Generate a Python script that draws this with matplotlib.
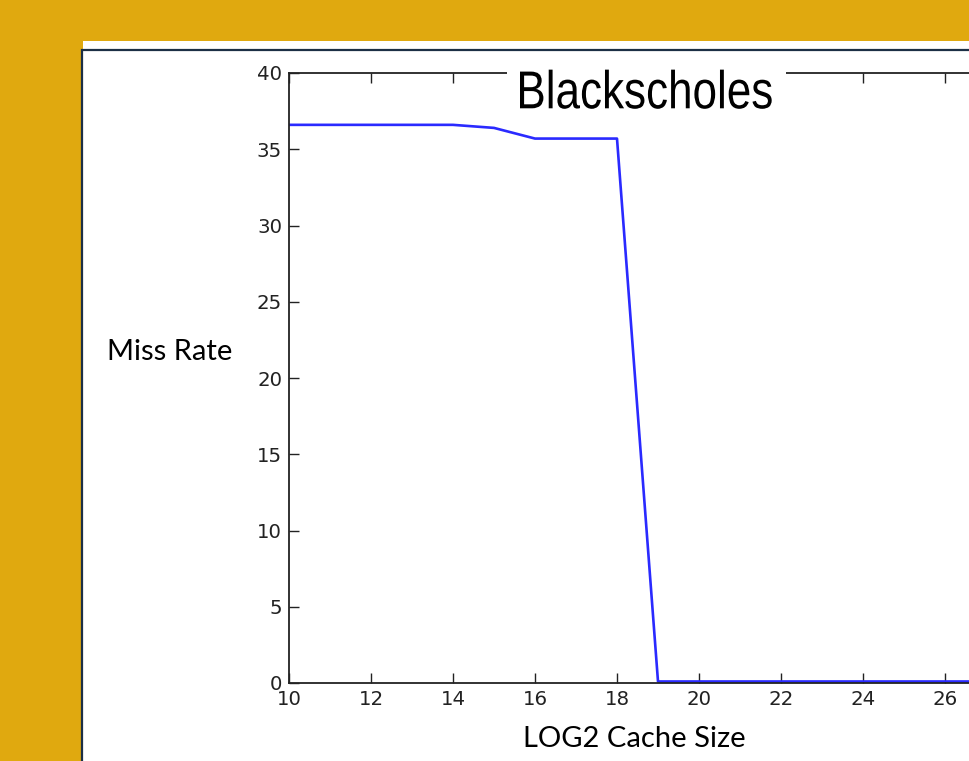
import numpy as np
import matplotlib.pyplot as plt
import matplotlib.transforms as mtransforms
from matplotlib.patches import Rectangle, PathPatch
from matplotlib.textpath import TextPath
from matplotlib.font_manager import FontProperties

# ------------------------------
# Datos
# ------------------------------
log2_size = [10, 11, 12, 13, 14, 15, 16, 17, 18, 19, 20, 21, 22, 23, 24, 25, 26, 27, 28, 29, 30]
miss_rate = [36.6, 36.6, 36.6, 36.6, 36.6, 36.4, 35.7, 35.7, 35.7, 0.1, 0.1, 0.1, 0.1, 0.1,
             0.1, 0.1, 0.1, 0.1, 0.1, 0.1, 0.1]
xticks = [10, 12, 14, 16, 18, 20, 22, 24, 26, 28, 30]
yticks = [0, 5, 10, 15, 20, 25, 30, 35, 40]
titulo = 'Blackscholes'

W, H = 969, 761
fig = plt.figure(figsize=(W/100, H/100), dpi=100)
fig.patch.set_facecolor('#e0a90f')

# panel blanco de la diapositiva
fig.patches.append(Rectangle((83/W, 0), 1, (H-41)/H, transform=fig.transFigure,
                             facecolor='white', edgecolor='none', zorder=0))
fig.patches.append(Rectangle((82/W, -0.01), 1, (H-49.5)/H + 0.01, transform=fig.transFigure,
                             facecolor='none', edgecolor='#1c2f45', linewidth=1.6, zorder=1))

ax = fig.add_axes([289/W, (H-683)/H, (1109-289)/W, 610/H])
ax.set_zorder(3)
ax.plot(log2_size, miss_rate, color='#2a2aff', linewidth=1.9)
ax.set_xlim(10, 30)
ax.set_ylim(0, 40)
ax.set_xticks(xticks)
ax.set_yticks(yticks)
ax.tick_params(direction='in', length=7, width=1, top=True, right=True,
               labelsize=14.2, pad=5, colors='#222222')
for s in ax.spines.values():
    s.set_linewidth(1.3)
    s.set_color('#222222')

# titulo en letra estrecha (Arial Narrow), tapando el borde superior
ax.add_patch(Rectangle((507, H-86), 279, 22, transform=mtransforms.IdentityTransform(),
                       facecolor='white', edgecolor='none', clip_on=False, zorder=6))
fp = FontProperties(family='Liberation Sans')
tp = TextPath((0, 0), titulo, size=1, prop=fp)
bb = tp.get_extents()
hB = TextPath((0, 0), 'B', size=1, prop=fp).get_extents().ymax
sy = 36.7/hB
sx = (771.7-520)/(bb.xmax-bb.xmin)
tr = mtransforms.Affine2D().scale(sx, sy).translate(520 - bb.xmin*sx, H-108.3)
ax.add_patch(PathPatch(tr.transform_path(tp), transform=mtransforms.IdentityTransform(),
                       facecolor='black', edgecolor='none', clip_on=False, zorder=7))

fig.text(170/W, 1 - 352/H, 'Miss Rate', ha='center', va='center',
         fontsize=21, family='Lato', color='black', zorder=4)
fig.text(634/W, 1 - 739/H, 'LOG2 Cache Size', ha='center', va='center',
         fontsize=21, family='Lato', color='black', zorder=4)

plt.savefig('out.png', dpi=100, facecolor=fig.get_facecolor())
